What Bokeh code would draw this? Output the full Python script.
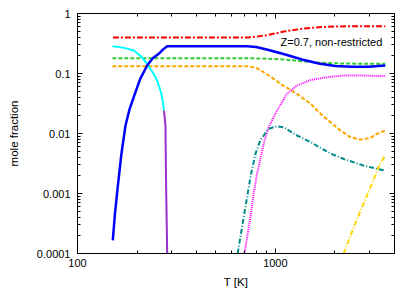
from bokeh.plotting import figure
from bokeh.models import LogAxis, FixedTicker, CustomJSTickFormatter, Label, Range1d
from bokeh.embed import file_html
from bokeh.resources import INLINE

# ---- tick labels ----
x_tick_vals = [100, 1000]
x_tick_labels = ["100", "1000"]
y_tick_vals = [0.0001, 0.001, 0.01, 0.1, 1]
y_tick_labels = ["0.0001", "0.001", "0.01", "0.1", "1"]

# ---- series (T [K], mole fraction) ----
T_red = [151, 300, 600, 720, 800, 900, 1000, 1123, 1364, 1654, 2009, 2500, 3000, 3593]
y_red = [0.398, 0.398, 0.398, 0.398, 0.41, 0.435, 0.465, 0.505, 0.556, 0.59, 0.607, 0.614, 0.616, 0.614]

T_cyan = [150.3, 170, 192.4, 210, 224.9, 240, 252.7, 261, 267.8, 273.5]
y_cyan = [0.285, 0.27, 0.242, 0.192, 0.145, 0.104, 0.0764, 0.055, 0.0403, 0.024]

T_purple = [273.5, 276, 278.3, 280.5, 282.5, 284]
y_purple = [0.024, 0.018, 0.0136, 0.0013, 0.0003, 0.0001]

T_blue = [150.8, 154.5, 158.7, 166.3, 174.8, 183, 192.4, 207, 224.9, 240, 257.4, 270, 283.8,
          720, 800, 925, 1123, 1364, 1654, 2009, 2440, 2960, 3593]
y_blue = [0.000165, 0.00045, 0.00105, 0.0043, 0.0136, 0.025, 0.0403, 0.08, 0.136, 0.18, 0.213, 0.25, 0.285,
          0.285, 0.277, 0.246, 0.207, 0.171, 0.147, 0.133, 0.129, 0.129, 0.136]

T_green = [150, 700, 850, 1000, 1123, 1364, 1654, 2009, 2500, 3593]
y_green = [0.18, 0.18, 0.178, 0.174, 0.17, 0.16, 0.152, 0.148, 0.146, 0.145]

T_orange = [150, 720, 800, 873, 1000, 1059, 1285, 1507, 1693, 1902, 2133, 2394, 2686, 3013, 3256, 3593]
y_orange = [0.132, 0.132, 0.125, 0.105, 0.078, 0.0673, 0.0459, 0.0313, 0.0213, 0.0154, 0.0112,
            0.00868, 0.00794, 0.00839, 0.00988, 0.0112]

T_magenta = [698, 748, 777, 808, 858, 873, 923, 1020, 1144, 1285, 1507, 1828, 2213, 2686, 3593]
y_magenta = [0.0001, 0.000403, 0.00099, 0.00213, 0.0052, 0.00673, 0.0127, 0.0242, 0.0459, 0.0631,
             0.078, 0.0868, 0.0927, 0.0927, 0.0902]

T_teal = [645, 691.6, 720, 748, 793, 838.5, 923, 1020, 1103, 1285, 1507, 1693, 1902, 2213, 2788, 3256, 3593]
y_teal = [0.0001, 0.000403, 0.000868, 0.00187, 0.00459, 0.00764, 0.012, 0.0132, 0.0127, 0.00927,
          0.0072, 0.00573, 0.00464, 0.00376, 0.00293, 0.00258, 0.00242]

T_gold = [2213, 2489, 2788, 3124, 3377, 3593]
y_gold = [0.0001, 0.000274, 0.000673, 0.00165, 0.00313, 0.0043]

FONT = "Liberation Sans"

# minor tick positions (2..9 within each decade)
x_minor = [m * 10 ** k for k in (2, 3) for m in range(2, 10) if m * 10 ** k <= 4000]
y_minor = [m * 10.0 ** k for k in (-4, -3, -2, -1) for m in range(2, 10)]

p = figure(frame_width=317, frame_height=240,
           x_axis_type="log", y_axis_type="log",
           x_range=Range1d(100, 4000), y_range=Range1d(1e-4, 1),
           output_backend="svg", toolbar_location=None,
           min_border_left=77, min_border_right=12, min_border_top=13, min_border_bottom=30)

p.xgrid.visible = False
p.ygrid.visible = False
p.outline_line_color = "black"
p.outline_line_width = 1

fmt_code = """
for (let i = 0; i < vals.length; i++) {
  if (Math.abs(Math.log10(tick) - Math.log10(vals[i])) < 1e-6) return labels[i];
}
return "";
"""
x_ticker = FixedTicker(ticks=x_tick_vals, minor_ticks=x_minor)
y_ticker = FixedTicker(ticks=y_tick_vals, minor_ticks=y_minor)
p.xaxis.ticker = x_ticker
p.yaxis.ticker = y_ticker
p.xaxis.formatter = CustomJSTickFormatter(args=dict(vals=x_tick_vals, labels=x_tick_labels), code=fmt_code)
p.yaxis.formatter = CustomJSTickFormatter(args=dict(vals=y_tick_vals, labels=y_tick_labels), code=fmt_code)

for ax in (p.xaxis[0], p.yaxis[0]):
    ax.major_tick_in = 5
    ax.major_tick_out = 0
    ax.minor_tick_in = 3
    ax.minor_tick_out = 0
    ax.axis_line_color = "black"
    ax.major_tick_line_color = "black"
    ax.minor_tick_line_color = "black"
    ax.major_label_text_font = FONT
    ax.major_label_text_font_size = "11px"
    ax.major_label_text_color = "black"
    ax.axis_label_text_font = FONT
    ax.axis_label_text_font_size = "11.5px"
    ax.axis_label_text_font_style = "normal"
    ax.axis_label_text_color = "black"

p.xaxis.axis_label = "T [K]"
p.yaxis.axis_label = "mole fraction"
p.xaxis.major_label_standoff = 5
p.xaxis.axis_label_standoff = 6
p.yaxis.major_label_standoff = 7
p.yaxis.axis_label_standoff = 14

for side, tk in (("right", y_ticker), ("above", x_ticker)):
    ax = LogAxis(ticker=tk, major_label_text_alpha=0, major_label_text_font_size="1px",
                 major_label_standoff=0,
                 major_tick_in=5, major_tick_out=0, minor_tick_in=3, minor_tick_out=0,
                 axis_line_color="black")
    p.add_layout(ax, side)

p.line(T_red, y_red, line_color="#ff0000", line_width=2, line_dash="6 2 2 2")
p.line(T_green, y_green, line_color="#32cd32", line_width=2, line_dash="4 2")
p.line(T_orange, y_orange, line_color="#ffa500", line_width=2, line_dash="4 2")
p.line(T_cyan, y_cyan, line_color="#00ffff", line_width=2)
p.line(T_purple, y_purple, line_color="#9932cc", line_width=2)
p.line(T_magenta, y_magenta, line_color="#ff00ff", line_width=2, line_dash="1 1")
p.line(T_teal, y_teal, line_color="#008b8b", line_width=2, line_dash="5 2 1 2")
p.line(T_gold, y_gold, line_color="#ffd700", line_width=2, line_dash="5 2 1 2")
p.line(T_blue, y_blue, line_color="#0000ff", line_width=2.5)

p.add_layout(Label(x=3470, y=0.34, text="Z=0.7, non-restricted", text_align="right",
                   text_baseline="middle", text_font=FONT, text_font_size="11px",
                   text_color="black"))

open("out.html", "w").write(file_html(p, INLINE))
